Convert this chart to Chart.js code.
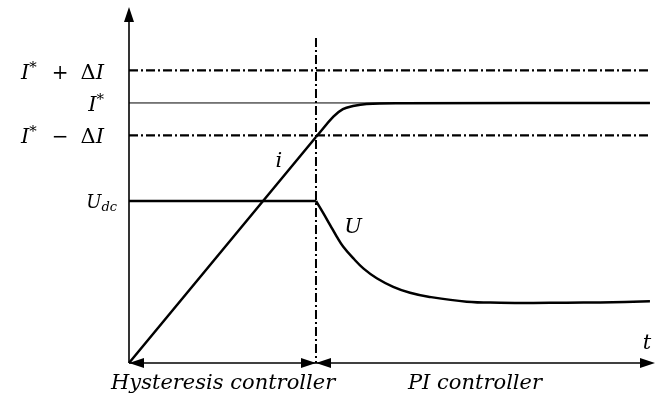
<!DOCTYPE html>
<html>
<head>
<meta charset="utf-8">
<script src="https://cdn.jsdelivr.net/npm/chart.js@4/dist/chart.umd.min.js"></script>
<style>
  html, body { margin: 0; padding: 0; background: #fff; }
  #wrap { width: 669px; height: 399px; }
</style>
</head>
<body>
<div id="wrap"><canvas id="c" width="669" height="399"></canvas></div>
<script>
// normalised: time 1 = controller switch, current 1 = I*
const tSwitch = 1;
const tEnd = 2.786;
const iRef = 1.0;
const dI = 0.125;
const uDc = 0.623;
const vTop = 1.25;

// current i: straight ramp, then settling to I*
const iRampT = [0, 0.5, 1];
const iRampV = [0, 0.4345, 0.869];
const iSettleT = [1, 1.093, 1.144, 1.198, 1.271, 1.449, 2.786];
const iSettleV = [0.869, 0.947, 0.976, 0.988, 0.996, 0.999, 1.0];

// voltage U: held at Udc, then decays under PI control
const uHoldT = [0, 1];
const uHoldV = [0.623, 0.623];
const uDecayT = [1, 1.039, 1.075, 1.111, 1.146, 1.199, 1.253, 1.325, 1.413, 1.503, 1.601, 1.806, 1.984, 2.162, 2.341, 2.519, 2.786];
const uDecayV = [0.623, 0.576, 0.531, 0.486, 0.447, 0.403, 0.364, 0.326, 0.293, 0.270, 0.255, 0.236, 0.232, 0.231, 0.232, 0.233, 0.237];

const phaseNames = ["Hysteresis controller", "PI controller"];

const pts = (xs, ys) => xs.map((x, k) => ({ x: x, y: ys[k] }));
const serif = '"DejaVu Serif", "Liberation Serif", serif';
const dashDot = [9, 3, 2, 3];

function line(data, extra) {
  return Object.assign({
    data: data,
    borderColor: "#000",
    borderWidth: 2.5,
    pointRadius: 0,
    tension: 0,
    fill: false,
    showLine: true,
    clip: false
  }, extra || {});
}

// draw a sequence of text runs, right aligned at x
function runs(ctx, parts, x, y) {
  let w = 0;
  parts.forEach(p => { ctx.font = p.f; w += ctx.measureText(p.t).width + (p.gap || 0); });
  let cx = x - w;
  ctx.textBaseline = "alphabetic";
  ctx.textAlign = "left";
  parts.forEach(p => {
    ctx.font = p.f;
    ctx.fillText(p.t, cx, y + (p.dy || 0));
    cx += ctx.measureText(p.t).width + (p.gap || 0);
  });
}

function arrowHead(ctx, x, y, dir) {
  ctx.beginPath();
  ctx.moveTo(x, y);
  ctx.lineTo(x - dir * 15, y - 5);
  ctx.lineTo(x - dir * 15, y + 5);
  ctx.closePath();
  ctx.fill();
}

const decor = {
  id: "decor",
  afterDatasetsDraw(chart) {
    const ctx = chart.ctx;
    const xs = chart.scales.x, ys = chart.scales.y;
    const x0 = xs.getPixelForValue(0), y0 = ys.getPixelForValue(0);
    const xR = chart.chartArea.right, yT = chart.chartArea.top;
    const xS = xs.getPixelForValue(tSwitch);
    ctx.save();
    ctx.fillStyle = "#000";
    ctx.strokeStyle = "#000";
    // y axis with arrow
    ctx.lineWidth = 1.6;
    ctx.beginPath();
    ctx.moveTo(x0, y0);
    ctx.lineTo(x0, yT + 10);
    ctx.stroke();
    ctx.beginPath();
    ctx.moveTo(x0, yT);
    ctx.lineTo(x0 - 5, yT + 15);
    ctx.lineTo(x0 + 5, yT + 15);
    ctx.closePath();
    ctx.fill();
    // time axis with phase arrows
    ctx.beginPath();
    ctx.moveTo(x0, y0);
    ctx.lineTo(xR - 8, y0);
    ctx.stroke();
    arrowHead(ctx, x0, y0, -1);
    arrowHead(ctx, xS, y0, 1);
    arrowHead(ctx, xS, y0, -1);
    arrowHead(ctx, xR, y0, 1);

    const it = "italic 21px " + serif;
    const up = "20px " + serif;
    const sup = "15px " + serif;
    const lx = 104;
    const yP = ys.getPixelForValue(iRef + dI) + 9;
    runs(ctx, [{ t: "I", f: it }, { t: "*", f: sup, dy: -7, gap: 15 }, { t: "+", f: up, gap: 12 }, { t: "\u0394", f: "21px " + serif }, { t: "I", f: it }], lx, yP);
    const yR = ys.getPixelForValue(iRef) + 8;
    runs(ctx, [{ t: "I", f: it }, { t: "*", f: sup, dy: -7 }], lx, yR);
    const yM = ys.getPixelForValue(iRef - dI) + 8;
    runs(ctx, [{ t: "I", f: it }, { t: "*", f: sup, dy: -7, gap: 15 }, { t: "\u2212", f: up, gap: 12 }, { t: "\u0394", f: "21px " + serif }, { t: "I", f: it }], lx, yM);
    const yU = ys.getPixelForValue(uDc) + 7;
    runs(ctx, [{ t: "U", f: "italic 18px " + serif }, { t: "dc", f: "italic 13px " + serif, dy: 3 }], 117, yU);

    ctx.font = "italic 21px " + serif;
    ctx.textAlign = "center";
    ctx.textBaseline = "middle";
    ctx.fillText("i", xs.getPixelForValue(0.802), ys.getPixelForValue(0.776));
    ctx.fillText("U", xs.getPixelForValue(1.198), ys.getPixelForValue(0.52));
    ctx.fillText("t", 647, y0 - 19);
    ctx.textAlign = "left";
    ctx.fillText(phaseNames[0], x0 - 18, y0 + 21);
    ctx.fillText(phaseNames[1], xs.getPixelForValue(1.492), y0 + 21);
    ctx.restore();
  }
};

new Chart(document.getElementById("c"), {
  type: "scatter",
  data: {
    datasets: [
      line([{ x: 0, y: iRef + dI }, { x: tEnd, y: iRef + dI }], { borderWidth: 2.2, borderDash: dashDot }),
      line([{ x: 0, y: iRef }, { x: tEnd, y: iRef }], { borderWidth: 1 }),
      line([{ x: 0, y: iRef - dI }, { x: tEnd, y: iRef - dI }], { borderWidth: 2.2, borderDash: dashDot }),
      line([{ x: tSwitch, y: vTop }, { x: tSwitch, y: 0 }], { borderWidth: 2, borderDash: dashDot }),
      line(pts(iRampT, iRampV)),
      line(pts(iSettleT, iSettleV), { tension: 0.4 }),
      line(pts(uHoldT, uHoldV)),
      line(pts(uDecayT, uDecayV), { tension: 0.4 })
    ]
  },
  options: {
    responsive: false,
    animation: false,
    events: [],
    layout: { padding: { left: 129, right: 14, top: 7, bottom: 36 } },
    plugins: { legend: { display: false }, tooltip: { enabled: false } },
    scales: {
      x: { type: "linear", min: 0, max: 2.813, display: false },
      y: { type: "linear", min: 0, max: 1.369, display: false }
    }
  },
  plugins: [decor]
});
</script>
</body>
</html>
